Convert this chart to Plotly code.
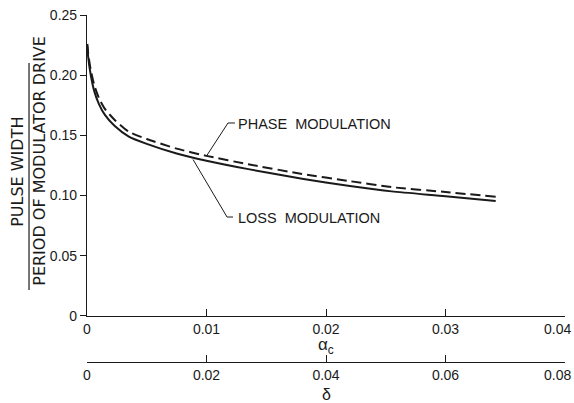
import plotly.graph_objects as go

# ---- data ----
alpha_c = [0.00003, 0.0001, 0.0003, 0.0006, 0.001, 0.0015, 0.0023, 0.0035, 0.005,
           0.0075, 0.01, 0.0135, 0.018, 0.022, 0.0255, 0.03, 0.0342]
loss_mod = [0.224, 0.215, 0.201, 0.187, 0.176, 0.167, 0.158, 0.149, 0.143,
            0.135, 0.129, 0.122, 0.114, 0.108, 0.1035, 0.0995, 0.0955]
phase_mod = [0.226, 0.218, 0.205, 0.192, 0.181, 0.172, 0.163, 0.153, 0.147,
             0.139, 0.133, 0.126, 0.118, 0.112, 0.107, 0.103, 0.099]

x_ticks = [0, 0.01, 0.02, 0.03, 0.04]
x_ticktext = ["0", "0.01", "0.02", "0.03", "0.04"]
delta_ticks = [0, 0.02, 0.04, 0.06, 0.08]
delta_ticktext = ["0", "0.02", "0.04", "0.06", "0.08"]
y_ticks = [0, 0.05, 0.10, 0.15, 0.20, 0.25]
y_ticktext = ["0", "0.05", "0.10", "0.15", "0.20", "0.25"]

INK = "#1a1a1a"
FONT = "Liberation Sans"
TITLE_FONT = "DejaVu Sans"
TICK_FONT = dict(size=14, family=FONT, color=INK)

fig = go.Figure()
fig.add_trace(go.Scatter(x=alpha_c, y=loss_mod, mode="lines", name="Loss modulation",
                         line=dict(color=INK, width=2, shape="spline", smoothing=0.6)))
fig.add_trace(go.Scatter(x=alpha_c, y=phase_mod, mode="lines", name="Phase modulation",
                         line=dict(color=INK, width=2, dash="10px,5px", shape="spline", smoothing=0.6)))
# invisible carrier so the secondary (delta) axis is drawn
fig.add_trace(go.Scatter(x=delta_ticks, y=[None] * len(delta_ticks), xaxis="x2", yaxis="y",
                         mode="markers", marker=dict(opacity=0), hoverinfo="skip", showlegend=False))

axis_common = dict(showline=True, linecolor=INK, linewidth=1.2, tickcolor=INK,
                   showgrid=False, zeroline=False, automargin=False,
                   ticklabeloverflow="allow", tickfont=TICK_FONT)

# last label of each x axis sits at the right edge: drawn as right-aligned text instead
x_labels_axis = x_ticktext[:-1] + [""]
d_labels_axis = delta_ticktext[:-1] + [""]

fig.update_layout(
    width=574, height=403,
    margin=dict(l=87, r=9, t=15, b=41, autoexpand=False),
    paper_bgcolor="white", plot_bgcolor="white",
    showlegend=False,
    font=dict(family=FONT, size=13, color=INK),
    xaxis=dict(range=[0, 0.04], tickvals=x_ticks, ticktext=x_labels_axis,
               ticks="inside", ticklen=7, anchor="y", **axis_common),
    xaxis2=dict(range=[0, 0.08], tickvals=delta_ticks, ticktext=d_labels_axis,
                ticks="inside", ticklen=7, overlaying="x", anchor="free", position=0,
                side="bottom", **axis_common),
    yaxis=dict(range=[0, 0.25], domain=[0.1326, 1], tickvals=y_ticks, ticktext=y_ticktext,
               ticks="outside", ticklen=6, **axis_common),
)

fig.add_annotation(text=x_ticktext[-1], xref="x", yref="y", x=x_ticks[-1], y=0,
                   xanchor="right", yanchor="middle", xshift=8, yshift=-13,
                   showarrow=False, font=TICK_FONT)
fig.add_annotation(text=delta_ticktext[-1], xref="x2", yref="paper", x=delta_ticks[-1], y=0,
                   xanchor="right", yanchor="middle", xshift=8, yshift=-13,
                   showarrow=False, font=TICK_FONT)

# axis titles
fig.add_annotation(text="α<sub>c</sub>", xref="paper", yref="paper", x=0.5, y=0.047,
                   xanchor="center", yanchor="middle",
                   showarrow=False, font=dict(size=17, family=FONT, color=INK))
fig.add_annotation(text="δ", xref="paper", yref="paper", x=0.5, y=-0.094,
                   xanchor="center", yanchor="middle",
                   showarrow=False, font=dict(size=16, family=FONT, color=INK))
fig.add_annotation(text="PULSE WIDTH", xref="paper", yref="paper", x=-0.1444, y=0.548,
                   xanchor="center", yanchor="middle",
                   textangle=-90, showarrow=False, font=dict(size=16, family=TITLE_FONT, color=INK))
fig.add_annotation(text="PERIOD OF MODULATOR DRIVE", xref="paper", yref="paper", x=-0.0983, y=0.58,
                   xanchor="center", yanchor="middle",
                   textangle=-90, showarrow=False, font=dict(size=16, family=TITLE_FONT, color=INK))
fig.add_shape(type="line", xref="paper", yref="paper", x0=-0.1213, x1=-0.1213, y0=0.2075, y1=0.862,
              line=dict(color=INK, width=1.2))

# curve labels and leader lines
fig.add_annotation(text="PHASE  MODULATION", x=0.0125, y=0.1595, xanchor="left",
                   showarrow=False, font=dict(size=14.5, family=FONT, color=INK))
fig.add_annotation(text="LOSS  MODULATION", x=0.0125, y=0.0814, xanchor="left",
                   showarrow=False, font=dict(size=14.5, family=FONT, color=INK))
fig.add_shape(type="path", xref="x", yref="y",
              path="M 0.01238 0.1603 L 0.0118 0.1603 L 0.01004 0.1335",
              line=dict(color=INK, width=1))
fig.add_shape(type="path", xref="x", yref="y",
              path="M 0.01222 0.0822 L 0.01172 0.0822 L 0.00887 0.1300",
              line=dict(color=INK, width=1))

# remove the browser's default page margin so the figure fills the window exactly
fig.write_html("out.html",
               config={"displayModeBar": False},
               post_script="document.body.style.margin='0';document.body.style.overflow='hidden';")
